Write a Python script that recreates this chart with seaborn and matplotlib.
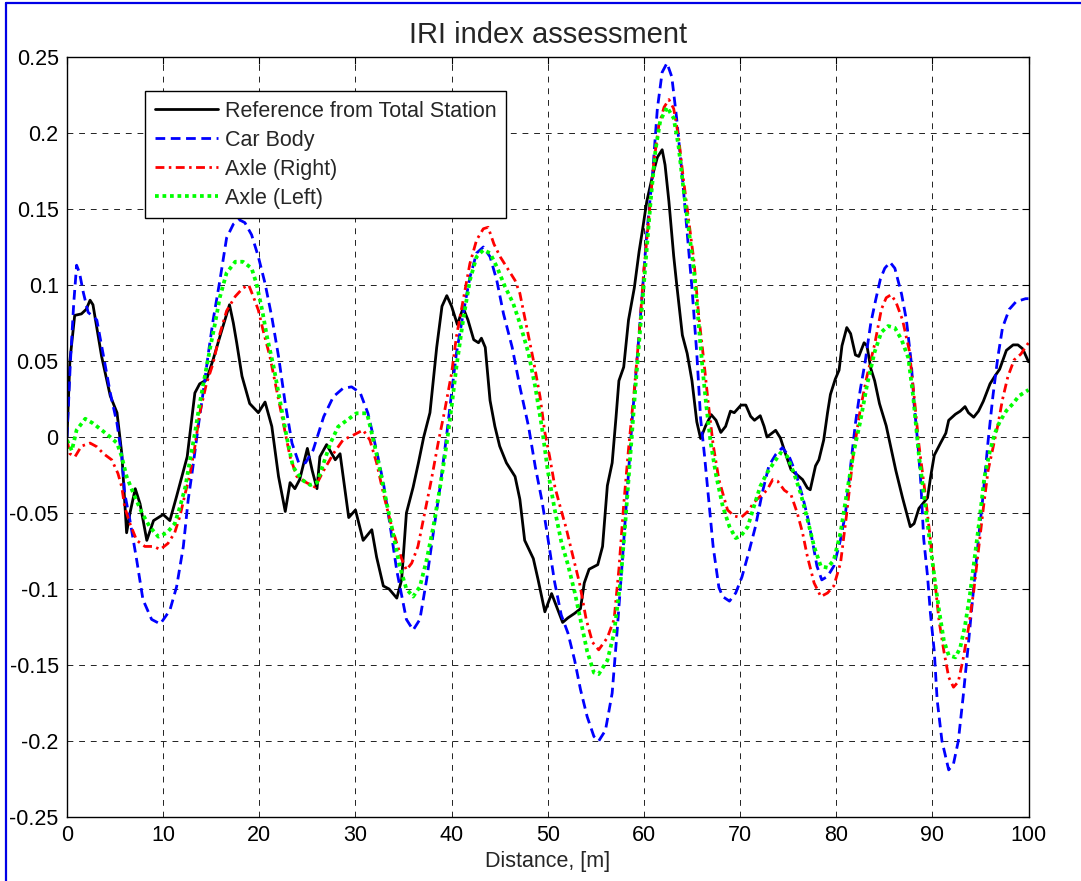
import numpy as np
import pandas as pd
import matplotlib
matplotlib.use("Agg")
import matplotlib.pyplot as plt
from matplotlib.lines import Line2D
import seaborn as sns

# ---------------- data ----------------
ref_x = [0.0, 0.3, 0.8, 1.5, 2.0, 2.4, 2.7, 3.6, 4.5, 5.2, 5.7, 6.2, 6.55, 7.1, 7.6, 8.3, 9.0, 10.0, 10.7,
         11.4, 12.5, 13.3, 13.8, 14.5, 15.2, 15.9, 16.9, 17.3, 17.65, 18.2, 19.0, 19.9, 20.6, 21.3, 22.0,
         22.7, 23.2, 23.7, 24.2, 25.0, 25.5, 26.0, 26.3, 27.0, 27.9, 28.4, 29.3, 30.0, 30.8, 31.7, 32.2,
         32.9, 33.5, 34.3, 34.8, 35.3, 36.0, 36.55, 37.1, 37.75, 38.1, 38.45, 39.0, 39.5, 40.0, 40.6, 41.2,
         41.7, 42.3, 42.8, 43.1, 43.5, 44.0, 44.5, 45.0, 45.7, 46.6, 47.1, 47.6, 48.5, 49.0, 49.7, 50.4,
         51.0, 51.55, 52.1, 52.8, 53.4, 53.8, 54.3, 55.2, 55.7, 56.2, 56.7, 57.1, 57.4, 57.9, 58.4, 59.0,
         59.5, 59.8, 60.3, 60.9, 61.4, 61.9, 62.2, 62.6, 63.1, 63.4, 64.0, 64.5, 65.0, 65.5, 65.9, 66.4,
         67.0, 67.5, 68.0, 68.5, 69.0, 69.4, 70.1, 70.6, 71.1, 71.5, 72.1, 72.5, 72.8, 73.7, 74.2, 74.7,
         75.3, 75.95, 76.5, 77.0, 77.3, 77.85, 78.2, 78.7, 79.1, 79.4, 79.9, 80.3, 80.6, 81.1, 81.5, 82.0,
         82.35, 82.9, 83.2, 83.6, 84.0, 84.5, 85.2, 85.7, 86.2, 86.9, 87.7, 88.1, 88.6, 89.5, 89.8, 90.2,
         90.85, 91.4, 91.7, 92.4, 92.9, 93.4, 93.75, 94.3, 94.8, 95.3, 96.0, 96.5, 97.0, 97.7, 98.4, 98.9,
         99.4, 100.0]
ref_y = [0.0, 0.05, 0.080, 0.081, 0.084, 0.090, 0.087, 0.053, 0.027, 0.016, -0.011, -0.063, -0.050, -0.034,
         -0.044, -0.068, -0.055, -0.051, -0.055, -0.039, -0.013, 0.029, 0.035, 0.0375, 0.051, 0.066, 0.087,
         0.075, 0.062, 0.040, 0.022, 0.016, 0.023, 0.007, -0.026, -0.049, -0.030, -0.034, -0.028, -0.0075,
         -0.022, -0.034, -0.013, -0.005, -0.015, -0.011, -0.053, -0.048, -0.068, -0.061, -0.079, -0.098,
         -0.100, -0.106, -0.094, -0.050, -0.033, -0.017, 0.0, 0.016, 0.0375, 0.059, 0.086, 0.093, 0.086,
         0.074, 0.085, 0.077, 0.064, 0.062, 0.065, 0.059, 0.024, 0.007, -0.006, -0.017, -0.026, -0.041,
         -0.068, -0.080, -0.094, -0.115, -0.103, -0.113, -0.122, -0.119, -0.116, -0.113, -0.096, -0.087,
         -0.084, -0.072, -0.032, -0.017, 0.013, 0.037, 0.046, 0.077, 0.098, 0.122, 0.134, 0.155, 0.172,
         0.184, 0.189, 0.179, 0.155, 0.119, 0.101, 0.067, 0.055, 0.037, 0.010, -0.001, 0.007, 0.0147, 0.011,
         0.003, 0.007, 0.017, 0.016, 0.021, 0.021, 0.0136, 0.011, 0.014, 0.007, 0.000, 0.0044, -0.0007,
         -0.0105, -0.0215, -0.025, -0.028, -0.0335, -0.0347, -0.019, -0.015, -0.002, 0.016, 0.028, 0.038,
         0.044, 0.060, 0.072, 0.068, 0.054, 0.053, 0.062, 0.060, 0.045, 0.037, 0.022, 0.0074, -0.0074,
         -0.022, -0.040, -0.059, -0.057, -0.047, -0.040, -0.027, -0.012, -0.004, 0.0025, 0.011, 0.015,
         0.017, 0.020, 0.016, 0.013, 0.017, 0.0235, 0.035, 0.040, 0.0446, 0.057, 0.0606, 0.0606, 0.058,
         0.0495]

car_x = [0.0, 0.35, 0.7, 1.0, 1.3, 1.7, 2.2, 3.1, 3.6, 4.5, 5.2, 5.7, 6.0, 6.55, 7.25, 7.9, 8.8, 9.7, 10.7,
         11.4, 12.1, 12.6, 13.1, 13.65, 14.2, 14.7, 15.2, 15.9, 16.6, 17.3, 17.9, 18.5, 19.2, 19.9, 20.6,
         21.3, 22.0, 22.7, 23.4, 24.1, 24.8, 25.6, 26.7, 27.7, 28.7, 29.6, 30.5, 31.3, 32.2, 32.9, 33.6,
         34.3, 35.3, 36.0, 36.7, 37.4, 38.1, 38.8, 39.5, 40.0, 40.5, 41.2, 41.9, 42.6, 43.3, 44.0, 44.7,
         45.4, 46.3, 47.1, 48.0, 48.7, 49.4, 50.0, 50.7, 51.4, 52.1, 52.8, 53.4, 54.1, 54.8, 55.3, 56.0,
         56.7, 57.2, 57.8, 58.3, 58.8, 59.3, 59.8, 60.3, 60.9, 61.4, 61.9, 62.4, 62.9, 63.4, 63.97, 64.5,
         65.0, 65.5, 65.9, 66.3, 66.8, 67.2, 67.8, 68.2, 68.9, 69.55, 70.2, 70.9, 71.6, 72.3, 73.0, 73.7,
         74.4, 75.1, 75.8, 76.5, 77.0, 77.5, 78.0, 78.5, 79.1, 79.75, 80.45, 80.97, 81.5, 82.0, 82.5, 83.0,
         83.6, 84.1, 84.6, 85.05, 85.6, 86.1, 86.8, 87.3, 87.8, 88.1, 88.5, 88.8, 89.1, 89.5, 89.8, 90.2,
         90.5, 91.0, 91.7, 92.2, 92.7, 93.2, 93.75, 94.3, 94.8, 95.3, 95.8, 96.3, 96.8, 97.3, 98.0, 98.7,
         99.7, 100.0]
car_y = [0.0, 0.049, 0.088, 0.113, 0.108, 0.095, 0.082, 0.077, 0.060, 0.029, 0.009, -0.013, -0.037, -0.055,
         -0.081, -0.107, -0.120, -0.123, -0.114, -0.0985, -0.072, -0.0415, -0.0195, 0.007, 0.031, 0.055,
         0.077, 0.103, 0.131, 0.140, 0.143, 0.141, 0.133, 0.1186, 0.101, 0.079, 0.053, 0.022, -0.004,
         -0.017, -0.017, -0.0086, 0.0134, 0.0265, 0.032, 0.033, 0.029, 0.0156, -0.009, -0.030, -0.058,
         -0.088, -0.120, -0.127, -0.120, -0.094, -0.063, -0.033, 0.002, 0.029, 0.055, 0.081, 0.105, 0.121,
         0.125, 0.1186, 0.103, 0.081, 0.059, 0.033, 0.007, -0.0195, -0.042, -0.066, -0.095, -0.117, -0.129,
         -0.147, -0.166, -0.184, -0.197, -0.200, -0.193, -0.1685, -0.129, -0.078, -0.032, 0.013, 0.052,
         0.092, 0.134, 0.173, 0.216, 0.240, 0.246, 0.237, 0.210, 0.173, 0.134, 0.098, 0.055, 0.012, -0.012,
         -0.045, -0.072, -0.099, -0.105, -0.108, -0.1026, -0.092, -0.076, -0.059, -0.037, -0.019, -0.0116,
         -0.007, -0.0127, -0.0237, -0.039, -0.052, -0.0675, -0.085, -0.094, -0.0917, -0.085, -0.0675,
         -0.050, -0.019, 0.009, 0.031, 0.049, 0.075, 0.090, 0.104, 0.111, 0.115, 0.111, 0.094, 0.077,
         0.0495, 0.022, -0.005, -0.030, -0.067, -0.0916, -0.116, -0.141, -0.173, -0.2, -0.219, -0.215,
         -0.2, -0.171, -0.136, -0.099, -0.067, -0.037, -0.0025, 0.027, 0.052, 0.072, 0.084, 0.089, 0.091,
         0.091]

right_x = [0.0, 0.3, 0.83, 1.5, 2.4, 3.1, 3.8, 4.65, 5.3, 5.7, 6.0, 6.55, 7.25, 8.1, 9.0, 9.7, 10.5, 11.2,
           11.75, 12.3, 12.8, 13.3, 13.8, 14.5, 15.2, 15.9, 16.6, 17.5, 18.3, 18.9, 19.4, 19.9, 20.4, 21.1,
           21.8, 22.5, 23.2, 23.9, 24.9, 25.8, 26.7, 27.7, 28.7, 29.8, 30.8, 31.5, 32.2, 32.9, 33.6, 34.3,
           34.8, 35.3, 35.85, 36.5, 37.2, 37.9, 38.6, 39.3, 40.0, 40.5, 41.2, 41.9, 42.6, 43.3, 43.8, 44.4,
           45.05, 45.9, 46.6, 47.1, 47.8, 48.5, 49.2, 49.7, 50.2, 50.75, 51.3, 51.9, 52.6, 53.3, 54.0, 54.65,
           55.3, 56.2, 56.9, 57.4, 57.9, 58.4, 59.0, 59.5, 60.0, 60.5, 61.0, 61.55, 62.1, 62.6, 63.1, 63.6,
           64.1, 64.65, 65.2, 65.7, 66.2, 66.7, 67.2, 67.8, 68.2, 68.7, 69.4, 70.1, 70.8, 71.45, 72.1, 72.8,
           73.4, 73.9, 74.6, 75.3, 75.95, 76.5, 77.0, 77.7, 78.4, 79.1, 79.75, 80.45, 81.1, 81.8, 82.5, 83.2,
           84.0, 84.7, 85.2, 85.7, 86.2, 86.9, 87.6, 88.1, 88.6, 89.15, 89.7, 90.2, 90.7, 91.2, 91.7, 92.2,
           92.7, 93.2, 93.75, 94.3, 94.8, 95.3, 95.8, 96.3, 96.8, 97.3, 97.85, 98.5, 99.2, 100.0]
right_y = [-0.002, -0.011, -0.013, -0.006, -0.004, -0.0064, -0.011, -0.015, -0.024, -0.033, -0.046, -0.057,
           -0.068, -0.072, -0.072, -0.074, -0.070, -0.063, -0.052, -0.037, -0.024, -0.0064, 0.0156, 0.035,
           0.0485, 0.068, 0.083, 0.0925, 0.098, 0.100, 0.092, 0.0835, 0.070, 0.053, 0.031, 0.009, -0.013,
           -0.026, -0.030, -0.033, -0.022, -0.011, -0.002, 0.0013, 0.0046, -0.002, -0.017, -0.037, -0.055,
           -0.070, -0.080, -0.0875, -0.083, -0.072, -0.050, -0.028, -0.004, 0.018, 0.042, 0.066, 0.090,
           0.114, 0.1296, 0.137, 0.138, 0.127, 0.1186, 0.110, 0.103, 0.0945, 0.0726, 0.0507, 0.0265, 0.003,
           -0.013, -0.033, -0.046, -0.0596, -0.078, -0.096, -0.120, -0.135, -0.140, -0.132, -0.120, -0.087,
           -0.0445, -0.008, 0.031, 0.0675, 0.11, 0.143, 0.179, 0.205, 0.217, 0.222, 0.216, 0.1976, 0.170,
           0.143, 0.116, 0.080, 0.052, 0.022, -0.005, -0.028, -0.037, -0.048, -0.052, -0.053, -0.049, -0.043,
           -0.039, -0.035, -0.028, -0.029, -0.035, -0.038, -0.050, -0.063, -0.0785, -0.096, -0.105, -0.1026,
           -0.098, -0.083, -0.050, -0.0105, 0.018, 0.040, 0.061, 0.084, 0.0916, 0.0936, 0.089, 0.077, 0.057,
           0.027, -0.005, -0.032, -0.062, -0.0916, -0.121, -0.141, -0.158, -0.1646, -0.161, -0.146, -0.126,
           -0.1015, -0.074, -0.047, -0.022, -0.0074, 0.0074, 0.0248, 0.0396, 0.0507, 0.0545, 0.062]

left_x = [0.0, 0.5, 1.0, 1.9, 2.7, 3.6, 4.5, 5.2, 5.7, 6.2, 6.9, 7.8, 8.6, 9.5, 10.4, 11.2, 11.75, 12.3,
          12.8, 13.3, 13.8, 14.4, 14.9, 15.4, 15.9, 16.6, 17.5, 18.3, 19.2, 19.7, 20.3, 20.8, 21.5, 22.2,
          22.85, 23.5, 24.4, 25.3, 26.0, 26.7, 27.4, 28.2, 29.1, 30.1, 31.2, 31.7, 32.4, 33.1, 33.8, 34.6,
          35.3, 36.0, 36.7, 37.4, 38.1, 38.8, 39.5, 40.0, 40.5, 41.2, 41.9, 42.6, 43.3, 44.0, 44.7, 45.55,
          46.4, 47.1, 48.0, 48.7, 49.4, 50.0, 50.7, 51.4, 52.1, 52.8, 53.4, 54.1, 54.8, 55.3, 56.2, 56.9,
          57.6, 58.1, 58.6, 59.1, 59.65, 60.2, 60.7, 61.2, 61.7, 62.4, 63.1, 63.6, 64.1, 64.65, 65.2, 65.7,
          66.1, 66.5, 66.95, 67.5, 68.2, 68.9, 69.55, 70.1, 70.8, 71.45, 72.1, 72.8, 73.5, 74.2, 74.9, 75.6,
          76.3, 77.0, 77.7, 78.4, 79.1, 79.75, 80.45, 81.1, 81.8, 82.5, 83.2, 84.0, 84.7, 85.4, 86.1, 86.8,
          87.5, 88.0, 88.3, 88.6, 89.15, 89.7, 90.2, 90.7, 91.2, 91.7, 92.4, 92.9, 93.4, 93.9, 94.4, 94.9,
          95.4, 95.97, 96.5, 97.0, 97.7, 98.4, 99.0, 100.0]
left_y = [-0.002, -0.009, 0.0046, 0.012, 0.009, 0.0046, 0.0, -0.004, -0.013, -0.026, -0.037, -0.050, -0.059,
          -0.0656, -0.063, -0.057, -0.046, -0.033, -0.015, 0.0024, 0.022, 0.042, 0.059, 0.0748, 0.092, 0.108,
          0.1153, 0.1153, 0.111, 0.101, 0.0835, 0.066, 0.046, 0.022, 0.0, -0.0195, -0.028, -0.0316, -0.030,
          -0.017, -0.004, 0.0068, 0.011, 0.0156, 0.0156, 0.0024, -0.017, -0.039, -0.060, -0.085, -0.10,
          -0.105, -0.0985, -0.081, -0.059, -0.033, -0.004, 0.020, 0.046, 0.077, 0.103, 0.1186, 0.123, 0.121,
          0.112, 0.099, 0.088, 0.0748, 0.055, 0.033, 0.006, -0.022, -0.047, -0.0687, -0.084, -0.102, -0.120,
          -0.141, -0.155, -0.156, -0.147, -0.129, -0.093, -0.0536, -0.011, 0.031, 0.0735, 0.116, 0.155,
          0.1885, 0.208, 0.217, 0.2097, 0.1915, 0.164, 0.137, 0.110, 0.0735, 0.045, 0.020, -0.004, -0.025,
          -0.0456, -0.059, -0.0665, -0.065, -0.059, -0.0456, -0.0325, -0.0237, -0.017, -0.0105, -0.0127,
          -0.0237, -0.037, -0.054, -0.072, -0.085, -0.086, -0.081, -0.063, -0.037, -0.0105, 0.010, 0.034,
          0.056, 0.069, 0.073, 0.0718, 0.064, 0.052, 0.027, 0.0074, -0.012, -0.0396, -0.067, -0.0916, -0.114,
          -0.134, -0.1436, -0.145, -0.1386, -0.124, -0.104, -0.079, -0.0545, -0.027, -0.0099, 0.0025, 0.0099,
          0.0173, 0.022, 0.027, 0.031]

labels = ["Reference from Total Station", "Car Body", "Axle (Right)", "Axle (Left)"]
x_ticks = [0, 10, 20, 30, 40, 50, 60, 70, 80, 90, 100]
y_ticks = [-0.25, -0.2, -0.15, -0.1, -0.05, 0, 0.05, 0.1, 0.15, 0.2, 0.25]
y_tick_labels = ["-0.25", "-0.2", "-0.15", "-0.1", "-0.05", "0", "0.05", "0.1", "0.15", "0.2", "0.25"]
title = "IRI index assessment"
xlabel = "Distance, [m]"

# ---------------- styling ----------------
sns.set_style("white")
plt.rcParams["font.family"] = ["Liberation Sans", "DejaVu Sans"]

fig = plt.figure(figsize=(10.81, 8.81), dpi=100)
ax = fig.add_axes([67 / 1081, 64 / 881, 961.5 / 1081, 760 / 881])

series = [
    (ref_x, ref_y, labels[0], "black", "-", 2.0),
    (car_x, car_y, labels[1], "#0000ff", (0, (3.5, 2.0)), 2.0),
    (right_x, right_y, labels[2], "#ff0000", (0, (3.2, 1.6, 0.9, 1.6)), 2.0),
    (left_x, left_y, labels[3], "#00ff00", (0, (1.0, 1.0)), 2.7),
]
for xs, ys, lab, col, ls, lw in series:
    df = pd.DataFrame({"x": xs, "y": ys})
    sns.lineplot(data=df, x="x", y="y", ax=ax, color=col, linestyle=ls,
                 linewidth=lw, label=lab, estimator=None, sort=False)

ax.set_xlim(0, 100)
ax.set_ylim(-0.25, 0.25)
ax.set_xticks(x_ticks)
ax.set_xticklabels([str(t) for t in x_ticks])
ax.set_yticks(y_ticks)
ax.set_yticklabels(y_tick_labels)
ax.tick_params(direction="in", length=5, width=0.8, top=True, right=True,
               labelsize=15.5, colors="black", pad=6)
ax.grid(True, color="#222222", linestyle=(0, (6, 6)), linewidth=0.7)
for sp in ax.spines.values():
    sp.set_color("black")
    sp.set_linewidth(1.0)

ax.set_title(title, fontsize=21, pad=10)
ax.set_xlabel(xlabel, fontsize=15.5, labelpad=3)
ax.set_ylabel("")

leg = ax.legend(loc="upper left", bbox_to_anchor=(0.081, 0.955), fontsize=15.5,
                frameon=True, fancybox=False, edgecolor="black", framealpha=1,
                handlelength=2.95, handletextpad=0.33, labelspacing=0.37,
                borderpad=0.45, borderaxespad=0)
leg.get_frame().set_linewidth(1.0)

# blue outer frame of the figure
fig.add_artist(Line2D([6 / 1081, 1.0], [1 - 3 / 881, 1 - 3 / 881], color="#0000e6",
                      linewidth=1.6, transform=fig.transFigure))
fig.add_artist(Line2D([6 / 1081, 6 / 1081], [0.0, 1 - 3 / 881], color="#0000e6",
                      linewidth=1.6, transform=fig.transFigure))

fig.savefig("out.png", dpi=100)
